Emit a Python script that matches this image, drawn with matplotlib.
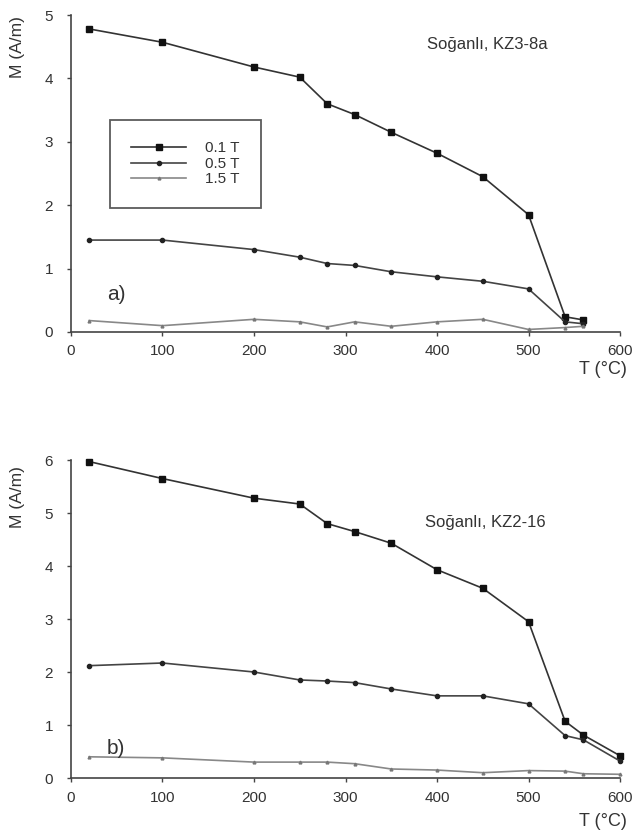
import matplotlib
matplotlib.use("Agg")
import matplotlib.pyplot as plt
from matplotlib.lines import Line2D

plt.rcParams['font.family'] = ['Liberation Sans', 'DejaVu Sans']

# Panel a) Soğanlı, KZ3-8a
T_a = [20, 100, 200, 250, 280, 310, 350, 400, 450, 500, 540, 560]
M01_a = [4.78, 4.57, 4.18, 4.02, 3.60, 3.43, 3.15, 2.82, 2.45, 1.85, 0.24, 0.19]
M05_a = [1.45, 1.45, 1.30, 1.18, 1.08, 1.05, 0.95, 0.87, 0.80, 0.68, 0.16, 0.13]
M15_a = [0.18, 0.10, 0.20, 0.16, 0.08, 0.16, 0.09, 0.16, 0.20, 0.04, 0.07, 0.09]

# Panel b) Soğanlı, KZ2-16
T_b = [20, 100, 200, 250, 280, 310, 350, 400, 450, 500, 540, 560, 600]
M01_b = [5.97, 5.65, 5.28, 5.17, 4.80, 4.65, 4.43, 3.93, 3.58, 2.95, 1.07, 0.81, 0.42]
M05_b = [2.12, 2.17, 2.00, 1.85, 1.83, 1.80, 1.68, 1.55, 1.55, 1.40, 0.80, 0.72, 0.32]
M15_b = [0.40, 0.38, 0.30, 0.30, 0.30, 0.27, 0.17, 0.15, 0.10, 0.14, 0.13, 0.08, 0.07]

labels = ['0.1 T', '0.5 T', '1.5 T']

fig = plt.figure(figsize=(6.35, 8.39), dpi=100)
ax_a = fig.add_axes([0.1118, 0.6043, 0.8646, 0.3778])
ax_b = fig.add_axes([0.1118, 0.0727, 0.8646, 0.3790])

txt = '#333333'
axc = '#444444'

def style(ax, ymax, ylab_y):
    ax.set_xlim(0, 600)
    ax.set_ylim(0, ymax)
    ax.set_xticks(range(0, 601, 100))
    ax.set_yticks(range(0, ymax + 1))
    for s in ['top', 'right']:
        ax.spines[s].set_visible(False)
    for s in ['left', 'bottom']:
        ax.spines[s].set_color(axc)
        ax.spines[s].set_linewidth(1.2)
    ax.tick_params(direction='out', length=3, width=1, colors=axc,
                   labelcolor=txt, labelsize=11)
    ax.tick_params(axis='y', pad=10)
    ax.tick_params(axis='x', pad=6)
    ax.set_ylabel('M (A/m)', fontsize=12.5, color=txt)
    ax.yaxis.set_label_coords(-0.083, ylab_y)

sty01 = dict(color='#333333', lw=1.2, marker='s', ms=3.8, mfc='#111111', mec='#111111')
sty05 = dict(color='#444444', lw=1.2, marker='o', ms=3, mfc='#222222', mec='#222222')
sty15 = dict(color='#888888', lw=1.2, marker='^', ms=2, mfc='#777777', mec='#777777')

def draw(ax, T, m1, m5, m15):
    ax.plot(T, m1, clip_on=False, **sty01)
    ax.plot(T, m5, clip_on=False, **sty05)
    ax.plot(T, m15, clip_on=False, **sty15)

style(ax_a, 5, 0.90)
style(ax_b, 6, 0.884)
draw(ax_a, T_a, M01_a, M05_a, M15_a)
draw(ax_b, T_b, M01_b, M05_b, M15_b)

ax_a.text((487 - 71) / 549, (332 - 44) / 317, 'Soğanlı, KZ3-8a', transform=ax_a.transAxes,
          fontsize=12, color=txt, ha='center', va='center')
ax_b.text((485 - 71) / 549, (778 - 522) / 318, 'Soğanlı, KZ2-16', transform=ax_b.transAxes,
          fontsize=12, color=txt, ha='center', va='center')
ax_a.text((107 - 71) / 549, (332 - 295) / 317, 'a)', transform=ax_a.transAxes, fontsize=15,
          color=txt, ha='left', va='center')
ax_b.text((107 - 71) / 549, (778 - 748) / 318, 'b)', transform=ax_b.transAxes, fontsize=15,
          color=txt, ha='left', va='center')

fig.text(603 / 635, 1 - 370 / 839, 'T (°C)', fontsize=13, color=txt,
         ha='center', va='center')
fig.text(603 / 635, 1 - 822 / 839, 'T (°C)', fontsize=13, color=txt,
         ha='center', va='center')

handles = [Line2D([], [], **sty01), Line2D([], [], **sty05), Line2D([], [], **sty15)]
leg = ax_a.legend(handles, labels, loc='upper left',
                  bbox_to_anchor=((110 - 71) / 549, (332 - 120) / 317),
                  frameon=True, fancybox=False, fontsize=11,
                  handlelength=3.6, borderpad=1.4, labelspacing=0.1,
                  handletextpad=1.2, borderaxespad=0)
leg.get_frame().set_edgecolor('#333333')
leg.get_frame().set_linewidth(1.3)
for t in leg.get_texts():
    t.set_color(txt)

fig.savefig('out.png', dpi=100)
